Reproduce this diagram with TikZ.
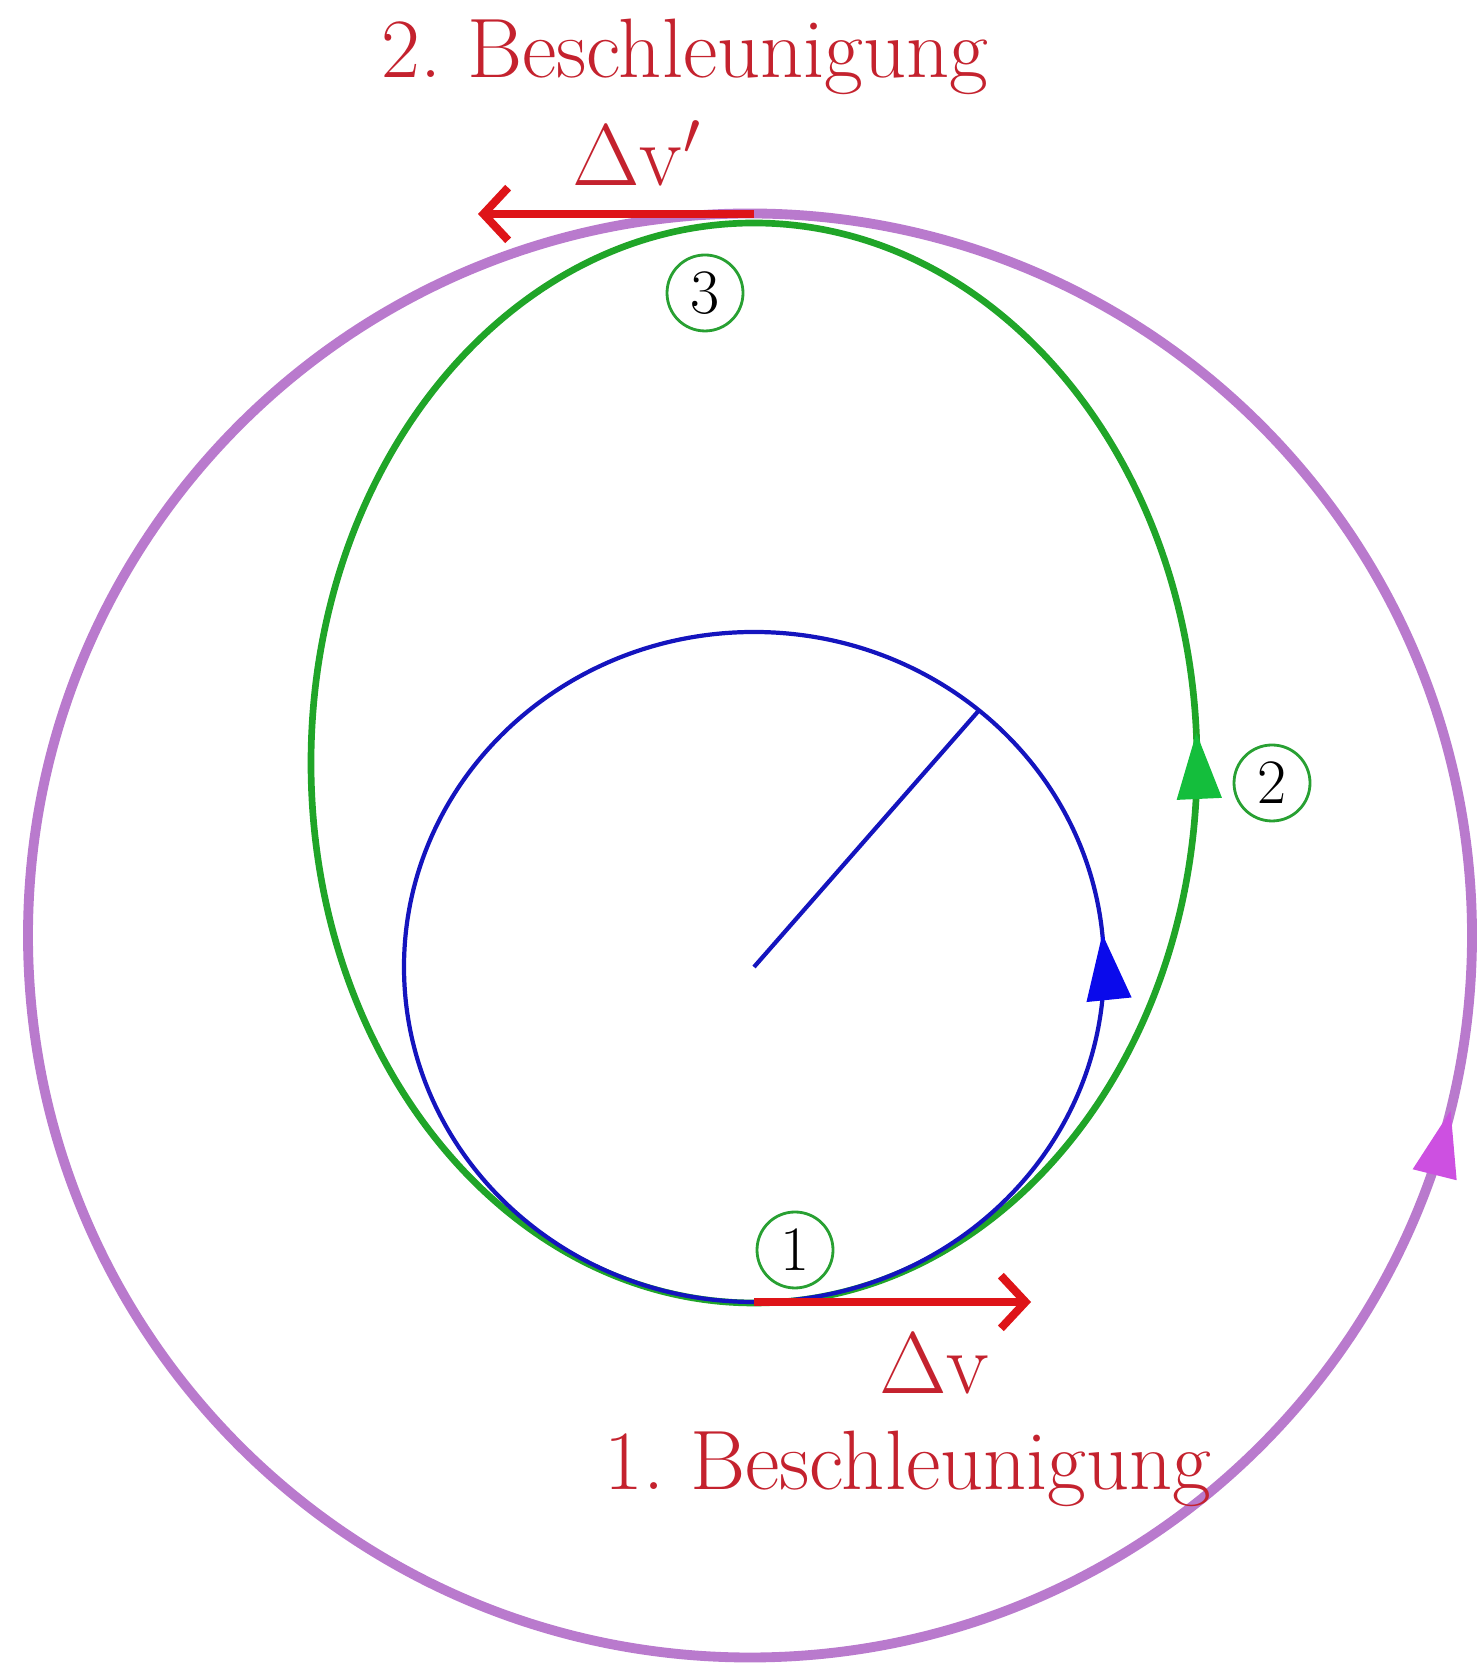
\documentclass[tikz,border=0pt]{standalone}
\usepackage{tikz}
\usetikzlibrary{arrows.meta,decorations.markings}

\definecolor{orbitpurple}{RGB}{185,122,205}
\definecolor{tippurple}{RGB}{205,80,225}
\definecolor{transfergreen}{RGB}{32,165,40}
\definecolor{tipgreen}{RGB}{20,190,60}
\definecolor{orbitblue}{RGB}{20,20,190}
\definecolor{tipblue}{RGB}{10,10,235}
\definecolor{boostred}{RGB}{222,20,24}
\definecolor{textred}{RGB}{196,34,46}
\definecolor{taggreen}{RGB}{40,160,50}

\frenchspacing

\begin{document}
\begin{tikzpicture}[
    % 外圆轨道样式（粗，紫色）
    outerorbit/.style={draw=orbitpurple, line width=2.8pt},
    % 转移椭圆样式（绿色）
    transfer/.style={draw=transfergreen, line width=1.9pt},
    % 内圆轨道样式（细，蓝色）
    innerorbit/.style={draw=orbitblue, line width=1.2pt},
    % 速度增量箭头样式
    boost/.style={draw=boostred, line width=2.3pt, -{Straight Barb[length=7pt,width=15pt]}},
    % 红色文字
    redtext/.style={text=textred, inner sep=0.5pt, font=\fontsize{24}{28}\selectfont},
    % 带圈数字
    numtag/.style={draw=taggreen, circle, line width=0.8pt, minimum size=0.76cm,
        inner sep=0pt, font=\fontsize{18}{20}\selectfont},
    % 轨道上的方向三角形
    dirmark/.style 2 args={postaction={decorate}, decoration={markings,
        mark=at position #1 with {\arrow{Triangle[length=0.66cm, width=0.45cm, line width=0.4pt, color=#2]}}}}
]

    % 0. 画布大小
    \useasboundingbox (0, 0) rectangle (14.77, 16.66);

    % 1. 关键坐标
    \def\cx{7.54}        % 共同的中心横坐标
    \def\outerY{7.305}   % 外圆圆心
    \def\outerR{7.22}
    \def\innerY{6.99}    % 内圆圆心
    \def\transY{9.03}    % 转移椭圆中心

    \coordinate (peri) at (\cx, 3.64);     % 第一次加速点（近地点）
    \coordinate (apo)  at (\cx, 14.52);    % 第二次加速点（远地点）
    \coordinate (dvend)  at (10.31, 3.64);
    \coordinate (dvpend) at (4.78, 14.52);
    \coordinate (centre) at (\cx, \innerY);
    \coordinate (rim) at ({\cx + 3.50*cos(50)}, {\innerY + 3.35*sin(50)});

    % 2. 外圆轨道
    \draw[outerorbit, dirmark={0.961}{tippurple}] (7.50, \outerY) circle (\outerR);

    % 3. 转移椭圆
    \draw[transfer, dirmark={0.0097}{tipgreen}] (\cx, \transY) ellipse (4.43 and 5.40);

    % 4. 内圆轨道及半径
    \draw[innerorbit, dirmark={0.0153}{tipblue}] (centre) ellipse (3.50 and 3.35);
    \draw[innerorbit] (centre) -- (rim);

    % 5. 两次加速的速度增量
    \draw[boost] (peri) -- (dvend);
    \draw[boost] (apo) -- (dvpend);

    % 6. 文字标注
    \node[redtext, anchor=base] (acc2) at (6.85, 15.88) {2. Beschleunigung};
    \node[redtext, anchor=base] (dv2)  at (6.37, 14.80) {$\Delta\mathrm{v}'$};
    \node[redtext, anchor=base] (dv1)  at (9.35, 2.72)  {$\Delta\mathrm{v}$};
    \node[redtext, anchor=base] (acc1) at (9.08, 1.76)  {1. Beschleunigung};

    % 7. 带圈编号
    \node[numtag] (n1) at (7.95, 4.16)  {1};
    \node[numtag] (n2) at (12.72, 8.83) {2};
    \node[numtag] (n3) at (7.05, 13.73) {3};

\end{tikzpicture}
\end{document}
